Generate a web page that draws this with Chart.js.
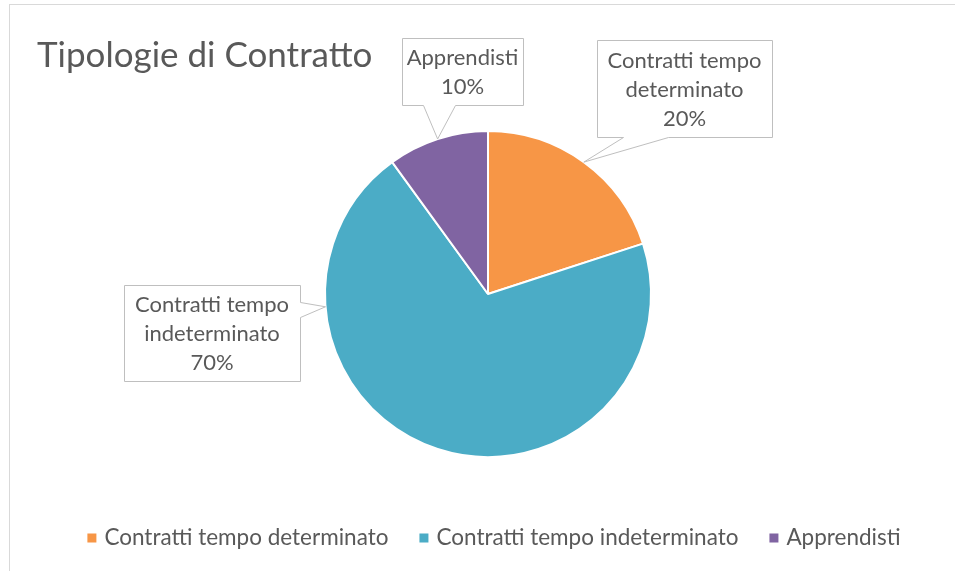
<!DOCTYPE html>
<html><head><meta charset="utf-8">
<script src="https://cdn.jsdelivr.net/npm/chart.js@4.4.0/dist/chart.umd.min.js"></script>
<style>html,body{margin:0;padding:0;background:#fff;}#wrap{width:955px;height:571px;position:relative;}</style>
</head><body><div id="wrap"><canvas id="c" width="955" height="571"></canvas></div>
<script>
const chartTitle = 'Tipologie di Contratto';
const categories = ['Contratti tempo determinato', 'Contratti tempo indeterminato', 'Apprendisti'];
const values = [20, 70, 10];
const calloutLines = [['Contratti tempo', 'determinato'], ['Contratti tempo', 'indeterminato'], ['Apprendisti']];
const colors = ['#F79646', '#4BACC6', '#8064A2'];

const FONT = 'Lato';
const TEXT = '#595959';
// callout layout: box [x1,y1,x2,y2], pointer base side & range, tip angle (deg clockwise from top, null = slice middle)
const callouts = [
  {box: [597, 40, 772, 137], side: 'bottom', base: [623, 668], angle: null},
  {box: [124, 285, 300, 381], side: 'right', base: [302, 317], angle: 265.5},
  {box: [402, 38, 523, 105], side: 'bottom', base: [423, 455], angle: null}
];

const decor = {
  id: 'decor',
  beforeDraw(chart) {
    const ctx = chart.ctx;
    ctx.save();
    ctx.fillStyle = '#fff';
    ctx.fillRect(0, 0, chart.width, chart.height);
    ctx.strokeStyle = '#D9D9D9';
    ctx.lineWidth = 1;
    ctx.strokeRect(9.5, 4.5, 1200, 1200);
    ctx.fillStyle = TEXT;
    ctx.font = '35px ' + FONT;
    ctx.textBaseline = 'alphabetic';
    ctx.textAlign = 'left';
    ctx.fillText(chartTitle, 37, 67);
    ctx.restore();
  },
  afterDraw(chart) {
    const ctx = chart.ctx;
    const meta = chart.getDatasetMeta(0);
    const total = values.reduce((a, b) => a + b, 0);
    ctx.save();
    meta.data.forEach((arc, i) => {
      const c = callouts[i];
      const p = arc.getProps(['x', 'y', 'startAngle', 'endAngle', 'outerRadius'], true);
      let ang;
      if (c.angle === null) ang = (p.startAngle + p.endAngle) / 2;
      else ang = c.angle * Math.PI / 180 - Math.PI / 2;
      const tx = p.x + Math.cos(ang) * p.outerRadius;
      const ty = p.y + Math.sin(ang) * p.outerRadius;
      const [x1, y1, x2, y2] = c.box;
      ctx.beginPath();
      ctx.moveTo(x1 + .5, y1 + .5);
      ctx.lineTo(x2 + .5, y1 + .5);
      if (c.side === 'right') {
        ctx.lineTo(x2 + .5, c.base[0] + .5);
        ctx.lineTo(tx, ty);
        ctx.lineTo(x2 + .5, c.base[1] + .5);
      }
      ctx.lineTo(x2 + .5, y2 + .5);
      if (c.side === 'bottom') {
        ctx.lineTo(c.base[1] + .5, y2 + .5);
        ctx.lineTo(tx, ty);
        ctx.lineTo(c.base[0] + .5, y2 + .5);
      }
      ctx.lineTo(x1 + .5, y2 + .5);
      ctx.closePath();
      ctx.fillStyle = '#fff';
      ctx.fill();
      ctx.strokeStyle = '#BFBFBF';
      ctx.lineWidth = 1;
      ctx.stroke();
      const lines = calloutLines[i].concat([Math.round(values[i] / total * 100) + '%']);
      const lh = 29;
      const cx = (x1 + x2) / 2, cy = (y1 + y2) / 2 + 1;
      ctx.fillStyle = TEXT;
      ctx.font = '22px ' + FONT;
      ctx.textAlign = 'center';
      ctx.textBaseline = 'middle';
      lines.forEach((t, k) => {
        ctx.fillText(t, cx, cy + (k - (lines.length - 1) / 2) * lh);
      });
    });
    // legend
    ctx.font = '22.5px ' + FONT;
    ctx.textAlign = 'left';
    ctx.textBaseline = 'middle';
    const gap = 31, sq = 9, sqGap = 8;
    const widths = categories.map(t => ctx.measureText(t).width);
    const totalW = widths.reduce((a, w) => a + w + sq + sqGap, 0) + gap * (categories.length - 1);
    let x = 494 - totalW / 2;
    const ly = 538;
    categories.forEach((t, i) => {
      ctx.fillStyle = colors[i];
      ctx.fillRect(x, ly - sq / 2, sq, sq);
      ctx.fillStyle = TEXT;
      ctx.fillText(t, x + sq + sqGap, ly);
      x += sq + sqGap + widths[i] + gap;
    });
    ctx.restore();
  }
};

new Chart(document.getElementById('c'), {
  type: 'pie',
  data: {
    labels: categories,
    datasets: [{data: values, backgroundColor: colors, borderColor: '#fff', borderWidth: 2}]
  },
  options: {
    responsive: false,
    animation: false,
    layout: {padding: {top: 130, bottom: 113, left: 324, right: 303}},
    plugins: {legend: {display: false}, tooltip: {enabled: false}, title: {display: false}}
  },
  plugins: [decor]
});
</script></body></html>
